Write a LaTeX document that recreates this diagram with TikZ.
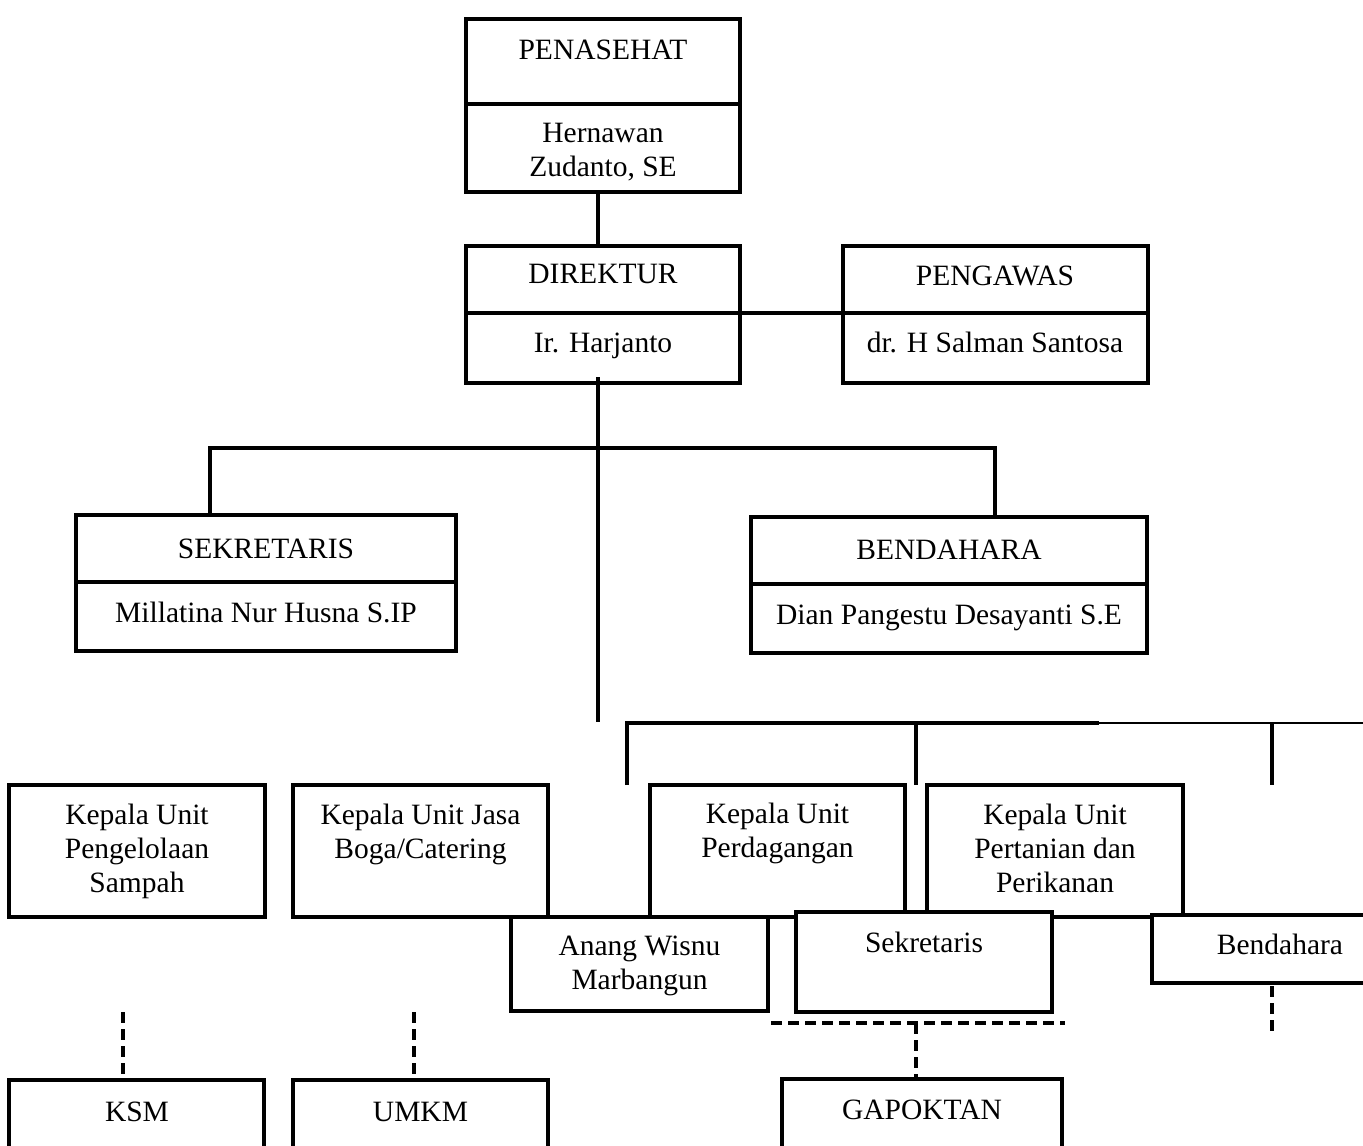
\documentclass[tikz,border=0pt]{standalone}
\usepackage{fontspec}
\setmainfont{Liberation Serif}
\begin{document}
\begin{tikzpicture}[x=1pt,y=1pt,
  box/.style={draw, line width=4pt, fill=white, inner sep=0pt, outer sep=0pt, anchor=north west},
  txt/.style={inner sep=0pt, align=center, font=\fontsize{29.5}{34}\selectfont},
  conn/.style={line width=3.5pt},
  thinconn/.style={line width=1.6pt},
  dashconn/.style={line width=4pt, dash pattern=on 11pt off 6pt}]
\useasboundingbox (0,0) rectangle (1363,-1146);
\clip (0,0) rectangle (1363,-1146);
% boxes
\node[box, minimum width=274pt, minimum height=85pt] (penA) at (466,-19) {};
\node[box, minimum width=274pt, minimum height=88pt] (penB) at (466,-104) {};
\node[box, minimum width=274pt, minimum height=67pt] (dirA) at (466,-246) {};
\node[box, minimum width=274pt, minimum height=70pt] (dirB) at (466,-313) {};
\node[box, minimum width=305pt, minimum height=67pt] (pgwA) at (843,-246) {};
\node[box, minimum width=305pt, minimum height=70pt] (pgwB) at (843,-313) {};
\node[box, minimum width=380pt, minimum height=67pt] (sekA) at (76,-515) {};
\node[box, minimum width=380pt, minimum height=69pt] (sekB) at (76,-582) {};
\node[box, minimum width=396pt, minimum height=67pt] (benA) at (751,-517) {};
\node[box, minimum width=396pt, minimum height=69pt] (benB) at (751,-584) {};
\node[box, minimum width=256pt, minimum height=132pt] (kSampah) at (9,-785) {};
\node[box, minimum width=255pt, minimum height=132pt] (kBoga) at (293,-785) {};
\node[box, minimum width=255pt, minimum height=132pt] (kDagang) at (650,-785) {};
\node[box, minimum width=256pt, minimum height=132pt] (kTani) at (927,-785) {};
\node[box, minimum width=257pt, minimum height=94pt] (anang) at (511,-917) {};
\node[box, minimum width=256pt, minimum height=100pt] (sekU) at (796,-912) {};
\node[box, minimum width=256pt, minimum height=68pt] (benU) at (1152,-915) {};
\node[box, minimum width=255pt, minimum height=100pt] (ksm) at (9,-1080) {};
\node[box, minimum width=255pt, minimum height=100pt] (umkm) at (293,-1080) {};
\node[box, minimum width=280pt, minimum height=100pt] (gapok) at (782,-1079) {};
% texts
\node[txt] (penAt) at (603,-52.2) {\strut PENASEHAT};
\node[txt] (penBt) at (603,-152.2) {\strut Hernawan\\\strut Zudanto, SE};
\node[txt] (dirAt) at (603,-276.2) {\strut DIREKTUR};
\node[txt] (dirBt) at (603,-345.2) {\strut Ir. Harjanto};
\node[txt] (pgwAt) at (995,-278.2) {\strut PENGAWAS};
\node[txt] (pgwBt) at (995,-345.2) {\strut dr. H Salman Santosa};
\node[txt] (sekAt) at (266,-551.2) {\strut SEKRETARIS};
\node[txt] (sekBt) at (266,-615.2) {\strut Millatina Nur Husna S.IP};
\node[txt] (benAt) at (949,-552.2) {\strut BENDAHARA};
\node[txt] (benBt) at (949,-617.2) {\strut Dian Pangestu Desayanti S.E};
\node[txt] (kSampaht) at (137,-851.7) {\strut Kepala Unit\\\strut Pengelolaan\\\strut Sampah};
\node[txt] (kBogat) at (420.5,-834.7) {\strut Kepala Unit Jasa\\\strut Boga/Catering};
\node[txt] (kDagangt) at (777.5,-833.7) {\strut Kepala Unit\\\strut Perdagangan};
\node[txt] (kTanit) at (1055,-851.2) {\strut Kepala Unit\\\strut Pertanian dan\\\strut Perikanan};
\node[txt] (anangt) at (639.5,-965.2) {\strut Anang Wisnu\\\strut Marbangun};
\node[txt] (sekUt) at (924,-945.2) {\strut Sekretaris};
\node[txt] (benUt) at (1280,-947.2) {\strut Bendahara};
\node[txt] (ksmt) at (137,-1114.2) {\strut KSM};
\node[txt] (umkmt) at (420.5,-1114.2) {\strut UMKM};
\node[txt] (gapokt) at (922,-1112.2) {\strut GAPOKTAN};
% connectors
\draw[conn] ([xshift=-5pt]penB.south) -- ([xshift=-5pt]dirA.north);
\draw[conn] (dirA.south east) -- (pgwA.south west);
\coordinate (trunkTop) at (598,-377);
\coordinate (trunkEnd) at (598,-722);
\draw[conn] (trunkTop) -- (trunkEnd);
\coordinate (barAL) at (210,-448);
\coordinate (barAR) at (995,-448);
\draw[conn] (barAL |- sekA.north) -- (barAL) -- (barAR) -- (barAR |- benA.north);
\coordinate (barBL) at (627,-723);
\coordinate (barBM) at (916,-723);
\coordinate (barBT) at (1099,-723);
\coordinate (barBR) at (1363,-723);
\coordinate (barBX) at (1272,-723);
\draw[line width=4pt] (barBL |- kDagang.north) -- (barBL) -- (barBT);
\draw[thinconn] (barBT) -- (barBR);
\draw[line width=4pt] (barBM) -- (barBM |- kDagang.north);
\draw[line width=4pt] (barBX) -- (barBX |- kDagang.north);
% dashed links
\coordinate (ksmTop) at (123,-1012);
\draw[dashconn] (ksmTop) -- (ksmTop |- ksm.north);
\coordinate (umkmTop) at (414,-1012);
\draw[dashconn] (umkmTop) -- (umkmTop |- umkm.north);
\coordinate (gapL) at (771,-1023);
\coordinate (gapR) at (1065,-1023);
\coordinate (gapM) at (916,-1023);
\draw[dashconn] (gapL) -- (gapR);
\draw[dashconn] (gapM) -- (gapM |- gapok.north);
\coordinate (benDashTop) at (1272,-986);
\coordinate (benDashEnd) at (1272,-1034);
\draw[dashconn] (benDashTop) -- (benDashEnd);
\end{tikzpicture}
\end{document}
